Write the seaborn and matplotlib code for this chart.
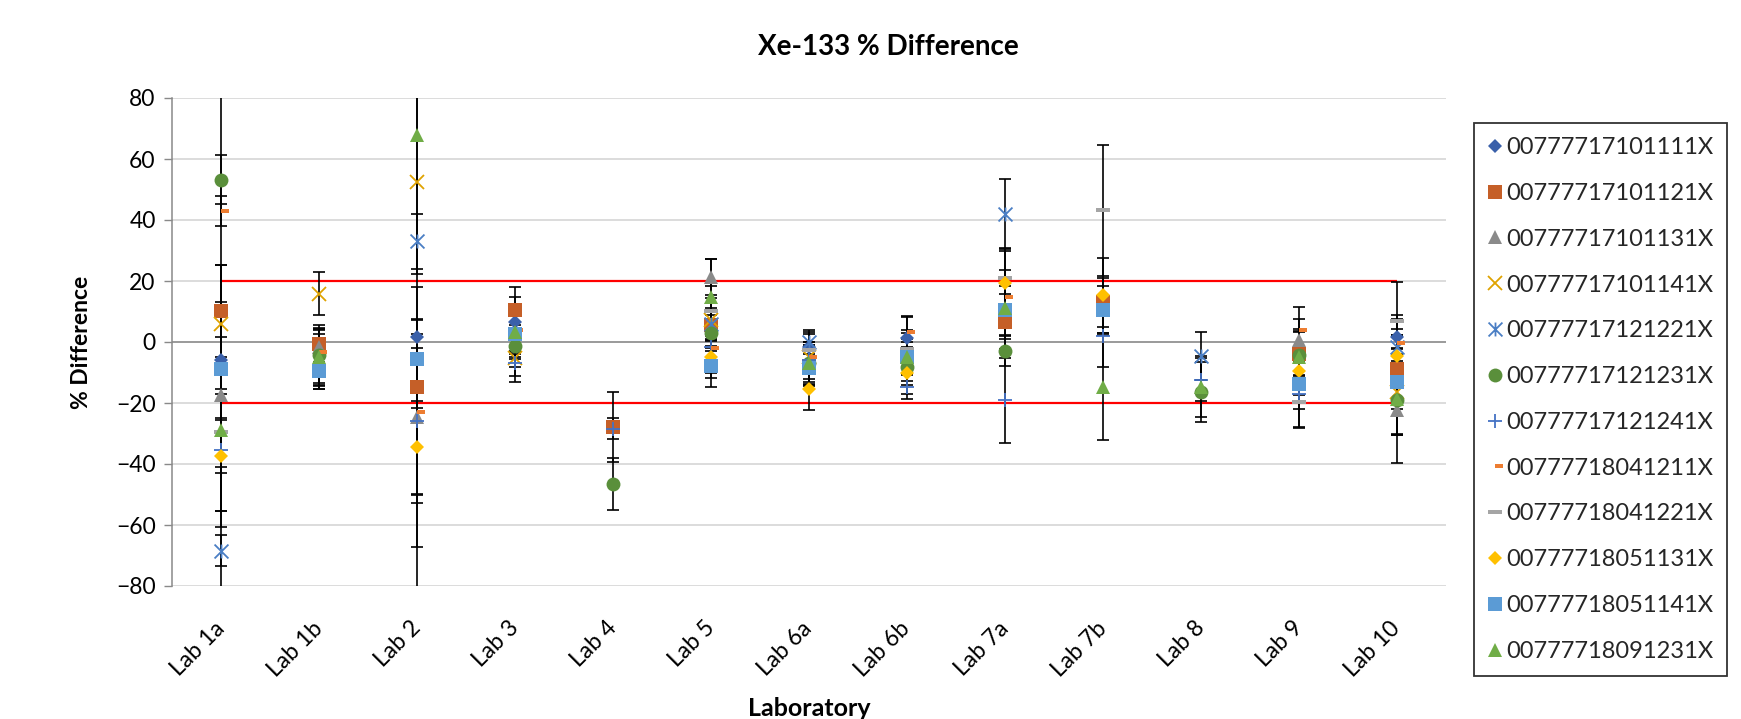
import numpy as np
import pandas as pd
import seaborn as sns
import matplotlib
matplotlib.use('Agg')
import matplotlib.pyplot as plt
from matplotlib.path import Path
from matplotlib.lines import Line2D

nan = np.nan

labs = ['Lab 1a', 'Lab 1b', 'Lab 2', 'Lab 3', 'Lab 4', 'Lab 5', 'Lab 6a',
        'Lab 6b', 'Lab 7a', 'Lab 7b', 'Lab 8', 'Lab 9', 'Lab 10']

series_names = ['00777717101111X', '00777717101121X', '00777717101131X',
                '00777717101141X', '00777717121221X', '00777717121231X',
                '00777717121241X', '00777718041211X', '00777718041221X',
                '00777718051131X', '00777718051141X', '00777718091231X']

# % difference per lab and the +/- uncertainty
v_101111 = [-6.0, -8.5, 1.6, 6.6, nan, 4.0, -1.6, 1.4, nan, nan, nan, nan, 1.6]
e_101111 = [19, 7, 6, 8, nan, 6, 5, 7, nan, nan, nan, nan, 6]

v_101121 = [10.2, -0.5, -14.6, 10.4, -27.9, 5.5, -8.0, -5.0, 6.6, 13.0, nan, -3.8, -8.8]
e_101121 = [15, 6, 7, 7.6, 11.5, 5, 6, 5, 9, 8, nan, 7, 11]

v_101131 = [-17.5, -1.6, -24.6, 3.0, nan, 21.3, nan, nan, nan, nan, nan, 0.5, -22.4]
e_101131 = [8, 6, 42.7, 6, nan, 6, nan, nan, nan, nan, nan, 7, 8]

v_101141 = [6.0, 15.9, 52.3, -5.1, nan, 7.3, -5.0, nan, nan, nan, nan, nan, -16.4]
e_101141 = [90, 6.9, 30, 6, nan, 7, 4, nan, nan, nan, nan, nan, 14]

v_121221 = [-68.4, nan, 33.0, nan, nan, 6.0, 0.0, nan, 42.1, nan, -4.6, nan, -1.6]
e_121221 = [5, nan, 9, nan, nan, 5, 4, nan, 11.2, nan, 8, nan, 8]

v_121231 = [53.2, -4.4, nan, -1.3, -46.5, 3.0, -7.0, -8.2, -3.0, nan, -16.4, -4.4, -19.1]
e_121231 = [8, 9, nan, 7, 8.5, 6, 6, 6, 5, nan, 9.7, 8, 11]

v_121241 = [-35.5, -9.5, -26.0, -7.0, -28.4, -1.6, -6.0, -14.6, -19.1, 1.9, -12.4, -17.0, -13.0]
e_121241 = [20, 6, 24, 6, 3.5, 6, 6, 4, 14, 10, 7, 11, 9]

v_041211 = [43.0, -3.3, -22.8, 4.0, nan, -2.0, -4.9, 3.3, 14.6, nan, nan, 4.0, -0.2]
e_041211 = [5, 6, 30, 8, nan, 8, 5, 5, 9, nan, nan, 7.5, 9]

v_041221 = [-29.5, nan, nan, 2.0, nan, 10.2, -2.5, -2.2, 21.0, 43.2, nan, -19.7, 6.8]
e_041221 = [31, nan, nan, 7, nan, 8, 5, 6, 9, 21.4, nan, 8.5, 13]

v_051131 = [-37.5, nan, -34.5, nan, nan, -4.9, -15.3, -10.2, 19.4, 15.3, nan, -9.5, -4.6]
e_051131 = [18, nan, 15.3, nan, nan, 7, 7, 7, 11, 12.3, nan, 8, 9]

v_051141 = [-8.8, -9.5, -5.5, 2.7, nan, -8.0, -8.4, -4.9, 10.4, 10.4, nan, -13.9, -13.1]
e_051141 = [34, 5, 8, 6, nan, 6.8, 6, 6, 8, 8, nan, 8, 11]

v_091231 = [-29.0, -5.0, 67.8, 3.3, nan, 14.8, -6.9, -4.9, 11.0, -14.6, -14.6, -4.9, -18.6]
e_091231 = [12, 9, 150, 9, nan, 12.3, 7, 8, 10, 17.4, 10, 9, 21]

limits = [20, -20]

values = [v_101111, v_101121, v_101131, v_101141, v_121221, v_121231,
          v_121241, v_041211, v_041221, v_051131, v_051141, v_091231]
errors = [e_101111, e_101121, e_101131, e_101141, e_121221, e_121231,
          e_121241, e_041211, e_041221, e_051131, e_051141, e_091231]

# excel-like marker shapes
star = Path([(-1, -1), (1, 1), (-1, 1), (1, -1), (0, -1), (0, 1)],
            [Path.MOVETO, Path.LINETO] * 3)
short_dash = Path([(0, -0.2), (1, -0.2), (1, 0.2), (0, 0.2), (0, -0.2)],
                  [Path.MOVETO, Path.LINETO, Path.LINETO, Path.LINETO, Path.CLOSEPOLY])
long_dash = Path([(-1, -0.28), (1, -0.28), (1, 0.28), (-1, 0.28), (-1, -0.28)],
                 [Path.MOVETO, Path.LINETO, Path.LINETO, Path.LINETO, Path.CLOSEPOLY])

colors = ['#3A60AA', '#C55F28', '#8A8A8A', '#DFA200', '#4A7EC4', '#5A8F3B',
          '#4472C4', '#ED7D31', '#A5A5A5', '#FFC000', '#5B9BD5', '#70AD47']
markers = ['D', 's', '^', 'x', star, 'o', '+', short_dash, long_dash, 'D', 's', '^']
msizes = [7, 10, 10, 10, 10, 10, 10, 11.5, 10, 7, 10, 10]
filled = [True, True, True, False, False, True, False, True, True, True, True, True]

sns.set_theme(style='white')
plt.rcParams['font.family'] = ['Lato', 'DejaVu Sans']

fig = plt.figure(figsize=(17.41, 7.19), dpi=100)
ax = fig.add_axes([172 / 1741, 1 - 586 / 719, 1274 / 1741, 488 / 719])

handles = []
for vals, errs, col, mk, ms, fl in zip(values, errors, colors, markers, msizes, filled):
    ax.plot(labs, vals, linestyle='none', marker=mk, markersize=ms,
            markerfacecolor=col if fl else 'none', markeredgecolor=col,
            markeredgewidth=0 if fl else 1.3, zorder=3)
    ax.errorbar(labs, vals, yerr=errs, fmt='none', ecolor='black',
                elinewidth=1.2, capsize=4.3, capthick=1.2, zorder=2)
    handles.append(Line2D([], [], linestyle='none', marker=mk, markersize=ms,
                          markerfacecolor=col if fl else 'none', markeredgecolor=col,
                          markeredgewidth=0 if fl else 1.3))

ax.hlines(limits, labs[0], labs[-1], colors='#FF0000', linewidth=1.6, zorder=1.5)
ax.axhline(0, color='#898989', linewidth=1.1, zorder=1.4)

ax.set_xlim(-0.5, len(labs) - 0.5)
ax.set_ylim(-80, 80)
ax.set_yticks(range(-80, 81, 20))
ax.yaxis.grid(True, color='#D9D9D9', linewidth=1.3)
ax.xaxis.grid(False)
ax.set_axisbelow(True)

sns.despine(ax=ax, top=True, right=True, bottom=True)
ax.spines['left'].set_color('#898989')
ax.spines['left'].set_linewidth(1.1)

ax.tick_params(axis='y', left=True, length=5.8, width=1.0, color='#898989',
               pad=6, labelsize=16.5, labelcolor='black')
ax.tick_params(axis='x', length=0, pad=28, labelsize=16.5, labelcolor='black')
for lbl in ax.get_xticklabels():
    lbl.set_rotation(45)
    lbl.set_ha('right')
    lbl.set_va('center')
    lbl.set_rotation_mode('anchor')

ax.set_ylabel('% Difference', fontsize=16.5, fontweight='bold', color='black')
ax.yaxis.set_label_coords(-0.063, 0.5)
ax.set_xlabel('Laboratory', fontsize=18, fontweight='bold', color='black', va='top')
ax.xaxis.set_label_coords(0.5, -0.2275)

fig.text(888 / 1741, 1 - 47 / 719, 'Xe-133 % Difference', ha='center', va='center',
         fontsize=20, fontweight='bold', color='black')

leg = fig.legend(handles, series_names, loc='upper left',
                 bbox_to_anchor=(1474 / 1741, 1 - 123 / 719), borderaxespad=0,
                 fontsize=17, frameon=True, fancybox=False, numpoints=1,
                 handlelength=0.6, handletextpad=0.15, borderpad=0.6,
                 labelspacing=1.05)
leg.get_frame().set_edgecolor('black')
leg.get_frame().set_linewidth(1.3)

fig.savefig('out.png', dpi=100)
